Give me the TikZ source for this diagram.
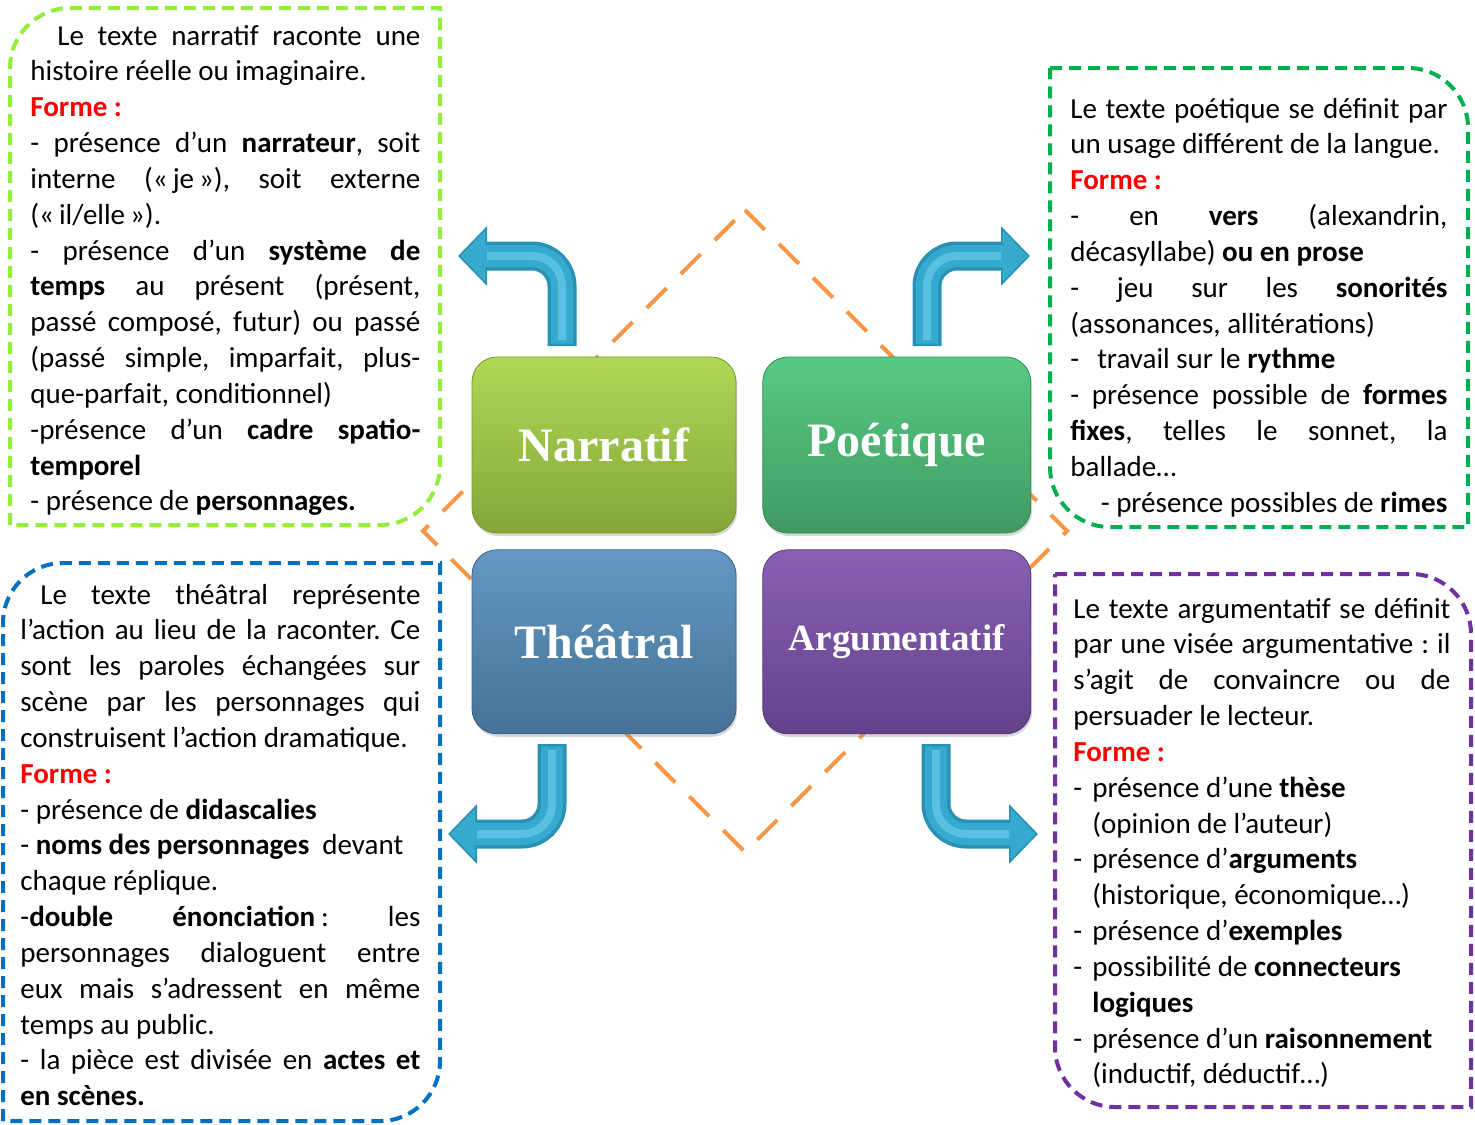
\documentclass[tikz,border=0pt]{standalone}
\usepackage{fontspec}
\setmainfont{Carlito}
\newfontfamily\titlefont{Liberation Serif}
\usepackage{tikz}
\usetikzlibrary{positioning, shadows, arrows.meta}

\definecolor{limeline}{RGB}{146,240,60}
\definecolor{greenline}{RGB}{0,176,80}
\definecolor{blueline}{RGB}{0,112,192}
\definecolor{purpleline}{RGB}{112,48,160}
\definecolor{diamondorange}{RGB}{247,150,70}
\definecolor{formered}{RGB}{255,0,0}
\definecolor{arrowdark}{RGB}{40,146,180}
\definecolor{arrowblue}{RGB}{54,170,206}
\definecolor{arrowlight}{RGB}{88,192,224}

\newcommand{\normsp}{\spaceskip=0pt\xspaceskip=0pt\frenchspacing\relax}
\newcommand{\jl}[1]{\makebox[\hsize][s]{\normsp#1}}
\newcommand{\rl}[1]{\makebox[\hsize][r]{\normsp#1}}
\newcommand{\forme}{\textcolor{formered}{\textbf{Forme :}}}
\newcommand{\guil}[1]{«\kern2.5pt#1\kern2.5pt»}
\newcommand{\itm}[1]{\makebox[9.5pt][l]{-}#1}
\newcommand{\suite}[1]{\hspace*{9.5pt}#1}

\begin{document}
\begin{tikzpicture}[x=0.5pt, y=-0.5pt,
    >=stealth,
    kind/.style={%
      rectangle, rounded corners=12.5pt, minimum width=132pt,
      text=white, font=\titlefont\bfseries\fontsize{24}{28}\selectfont,
      drop shadow={opacity=0.3, shadow xshift=0.6pt, shadow yshift=-1.5pt}
    },
    txt/.style={%
      anchor=base west, inner sep=0pt, align=left,
      font=\fontsize{14.5}{17.92}\selectfont
    },
    frame/.style={line width=2pt, dash pattern=on 6pt off 3.5pt},
    diamondline/.style={draw=diamondorange, line width=2pt, dash pattern=on 14pt off 10pt},
    arrowedge/.style={%
      draw=arrowdark, line width=14.5pt, rounded corners=15pt,
      -{Triangle[length=14.5pt, width=29pt]}
    },
    arrowbody/.style={%
      draw=arrowblue, line width=11pt, rounded corners=15pt,
      shorten >=1.2pt, shorten <=1.2pt,
      -{Triangle[length=12.5pt, width=25pt]}
    },
    arrowshine/.style={%
      draw=arrowlight, line width=4pt, rounded corners=15pt,
      shorten >=14.5pt, shorten <=3pt
    }
]
    \useasboundingbox (0,0) rectangle (1475,1124);
    \fill[white] (0,0) rectangle (1475,1124);

    % diamond behind the four boxes
    \draw[diamondline] (745,210) -- (1067,531) -- (745,852) -- (423,531) -- cycle;

    % the four kinds of text
    \node[kind, minimum height=88pt, draw={rgb,255:red,118;green,150;blue,48},
          top color={rgb,255:red,176;green,217;blue,86},
          bottom color={rgb,255:red,132;green,166;blue,58}] (narratif) at (604,445) {Narratif};
    \node[kind, minimum height=88pt, minimum width=134pt, draw={rgb,255:red,52;green,140;blue,86},
          top color={rgb,255:red,88;green,202;blue,132},
          bottom color={rgb,255:red,64;green,154;blue,96}] (poetique) [right = 13pt of narratif] {Poétique};
    \node[kind, minimum height=92pt, draw={rgb,255:red,58;green,98;blue,132},
          top color={rgb,255:red,98;green,152;blue,196},
          bottom color={rgb,255:red,70;green,114;blue,150}] (theatral) [below = 8pt of narratif] {Théâtral};
    \node[kind, minimum height=92pt, minimum width=134pt, draw={rgb,255:red,86;green,54;blue,118},
          top color={rgb,255:red,136;green,96;blue,180},
          bottom color={rgb,255:red,100;green,66;blue,138},
          font=\titlefont\bfseries\fontsize{18.5}{22}\selectfont] (argument) [right = 13pt of theatral] {Argumentatif};

    % bent arrows
    \coordinate (from-nar) at (562,346);
    \coordinate (to-nar)   at (458,256);
    \coordinate (from-poe) at (927,346);
    \coordinate (to-poe)   at (1030,256);
    \coordinate (from-the) at (552,744);
    \coordinate (to-the)   at (448,834);
    \coordinate (from-arg) at (936,744);
    \coordinate (to-arg)   at (1038,834);
    \foreach \k in {nar, poe, the, arg} {
      \draw[arrowedge]  (from-\k) |- (to-\k);
      \draw[arrowbody]  (from-\k) |- (to-\k);
      \draw[arrowshine] (from-\k) |- (to-\k);
    }

    % dashed frames
    \draw[frame, draw=limeline] (10,525) -- (10,68) arc[start angle=180, end angle=270, radius=60]
      -- (440,8) -- (440,465) arc[start angle=0, end angle=90, radius=60] -- cycle;
    \draw[frame, draw=greenline] (1050,68) -- (1408,68) arc[start angle=270, end angle=360, radius=60]
      -- (1468,527) -- (1110,527) arc[start angle=90, end angle=180, radius=60] -- cycle;
    \draw[frame, draw=blueline] (3,1121) -- (3,623) arc[start angle=180, end angle=270, radius=60]
      -- (440,563) -- (440,1061) arc[start angle=0, end angle=90, radius=60] -- cycle;
    \draw[frame, draw=purpleline] (1055,574) -- (1411,574) arc[start angle=270, end angle=360, radius=60]
      -- (1471,1107) -- (1115,1107) arc[start angle=90, end angle=180, radius=60] -- cycle;

    % texts
    \node[txt, text width=195pt] (narTxt) at (30,45) {\normsp
      \jl{\hspace*{13.5pt}Le texte narratif raconte une}\\
      histoire réelle ou imaginaire.\\
      \forme\\
      \jl{- présence d’un \textbf{narrateur}, soit}\\
      \jl{interne (\guil{je}), soit externe}\\
      (\guil{il/elle}).\\
      \jl{- présence d’un \textbf{système de}}\\
      \jl{\textbf{temps} au présent (présent,}\\
      \jl{passé composé, futur) ou passé}\\
      \jl{(passé simple, imparfait, plus-}\\
      que-parfait, conditionnel)\\
      \jl{-présence d’un \textbf{cadre spatio-}}\\
      \textbf{temporel}\\
      - présence de \textbf{personnages.}};
    \node[txt, text width=188.5pt] (poeTxt) at (1070,118) {\normsp
      \jl{Le texte poétique se définit par}\\
      un usage différent de la langue.\\
      \forme\\
      \jl{- en \textbf{vers} (alexandrin,}\\
      décasyllabe) \textbf{ou en prose}\\
      \jl{- jeu sur les \textbf{sonorités}}\\
      (assonances, allitérations)\\
      -\hspace{9pt}travail sur le \textbf{rythme}\\
      \jl{- présence possible de \textbf{formes}}\\
      \jl{\textbf{fixes}, telles le sonnet, la}\\
      ballade…\\
      \rl{- présence possibles de \textbf{rimes}}};
    \node[txt, text width=200pt] (theTxt) at (20,604) {\normsp
      \jl{\hspace*{10pt}Le texte théâtral représente}\\
      \jl{l’action au lieu de la raconter. Ce}\\
      \jl{sont les paroles échangées sur}\\
      \jl{scène par les personnages qui}\\
      construisent l’action dramatique.\\
      \forme\\
      - présence de \textbf{didascalies}\\
      - \textbf{noms des personnages}\ \ devant\\
      chaque réplique.\\
      \jl{-\textbf{double énonciation}\kern3pt: les}\\
      \jl{personnages dialoguent entre}\\
      \jl{eux mais s’adressent en même}\\
      temps au public.\\
      \jl{- la pièce est divisée en \textbf{actes et}}\\
      \textbf{en scènes.}};
    \node[txt, text width=188.5pt] (argTxt) at (1073,618) {\normsp
      \jl{Le texte argumentatif se définit}\\
      \jl{par une visée argumentative : il}\\
      \jl{s’agit de convaincre ou de}\\
      persuader le lecteur.\\
      \forme\\
      \itm{présence d’une \textbf{thèse}}\\
      \suite{(opinion de l’auteur)}\\
      \itm{présence d’\textbf{arguments}}\\
      \suite{(historique, économique…)}\\
      \itm{présence d’\textbf{exemples}}\\
      \itm{possibilité de \textbf{connecteurs}}\\
      \suite{\textbf{logiques}}\\
      \itm{présence d’un \textbf{raisonnement}}\\
      \suite{(inductif, déductif…)}};

\end{tikzpicture}
\end{document}
